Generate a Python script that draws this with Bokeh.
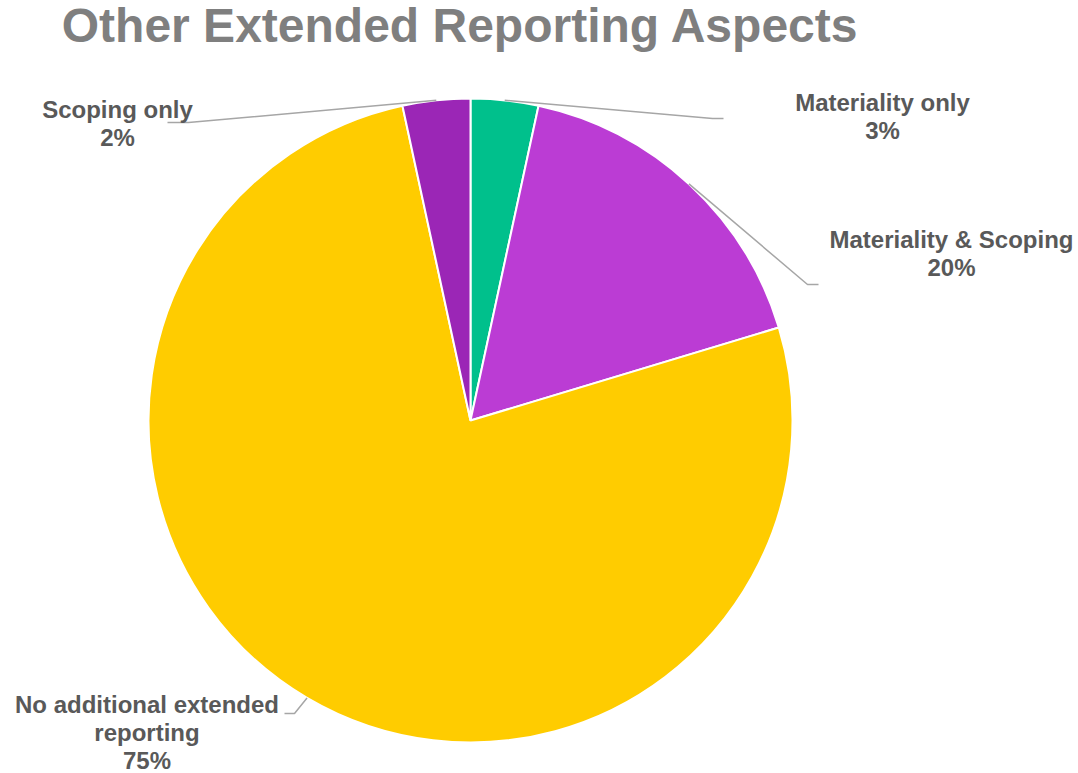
import math
from bokeh.plotting import figure
from bokeh.models import Range1d, ColumnDataSource
from bokeh.core.properties import value
from bokeh.embed import file_html
from bokeh.resources import INLINE

# ---- data ----
title_text = "Other Extended Reporting Aspects"
categories = ["Materiality only", "Materiality & Scoping",
              "No additional extended\nreporting", "Scoping only"]
counts = [2, 10, 45, 2]
pct_labels = ["3%", "20%", "75%", "2%"]
colors = ["#00c08c", "#bb3cd4", "#ffcc00", "#9b26b6"]

# ---- layout (screen pixels, y downwards) ----
W, H = 1078, 773
CX, CY, R = 470, 420, 322
label_first_baseline = [(882, 111), (951, 248), (146.5, 713), (117, 118)]
leader_elbow = [(712, 118), (807, 284), (294, 713), (188, 122)]
leader_end = [(723, 118), (818, 284), (284, 713), (167, 122)]
LINE_STEP = 28
LABEL_SIZE = 24
TITLE_SIZE = 48
BASE_SHIFT = 0.39  # renderer baseline correction, in em

def fy(y):
    return H - y

p = figure(width=W, height=H, x_range=Range1d(0, W), y_range=Range1d(0, H),
           output_backend="svg", toolbar_location=None,
           x_axis_location=None, y_axis_location=None, min_border=0)
p.grid.visible = False
p.outline_line_color = None
p.background_fill_color = "white"
p.border_fill_color = "white"

total = float(sum(counts))
starts, ends, mids = [], [], []
cum = 0.0
for c in counts:
    a0 = math.pi / 2 - 2 * math.pi * cum / total
    cum += c
    a1 = math.pi / 2 - 2 * math.pi * cum / total
    starts.append(a0)
    ends.append(a1)
    mids.append((a0 + a1) / 2)

src = ColumnDataSource(dict(start=starts, end=ends, color=colors, cat=categories))
p.wedge(x=CX, y=fy(CY), radius=R, start_angle="start", end_angle="end",
        direction="clock", fill_color="color", line_color="white",
        line_width=2, source=src)

# leader lines
xs, ys = [], []
for i, m in enumerate(mids):
    sx = CX + R * math.cos(m)
    sy = fy(CY) + R * math.sin(m)
    ex, ey = leader_elbow[i]
    tx, ty = leader_end[i]
    xs.append([sx, ex, tx])
    ys.append([sy, fy(ey), fy(ty)])
p.multi_line(xs=xs, ys=ys, line_color="#a6a6a6", line_width=1.5)

# labels
lx, ly, lt = [], [], []
for i, cat in enumerate(categories):
    lines = cat.split("\n") + [pct_labels[i]]
    bx, by = label_first_baseline[i]
    for j, t in enumerate(lines):
        lx.append(bx)
        ly.append(fy(by + j * LINE_STEP - BASE_SHIFT * LABEL_SIZE))
        lt.append(t)
p.text(x=lx, y=ly, text=lt, text_align="center", text_baseline="alphabetic",
       text_font=value("Liberation Sans"), text_font_style="bold",
       text_font_size=f"{LABEL_SIZE}px", text_color="#595959")

# title
p.text(x=[460], y=[fy(44 - BASE_SHIFT * TITLE_SIZE)], text=[title_text],
       text_align="center", text_baseline="alphabetic",
       text_font=value("Liberation Sans"), text_font_style="bold",
       text_font_size=f"{TITLE_SIZE}px", text_color="#7f7f7f")

open("out.html", "w").write(file_html(p, INLINE))
